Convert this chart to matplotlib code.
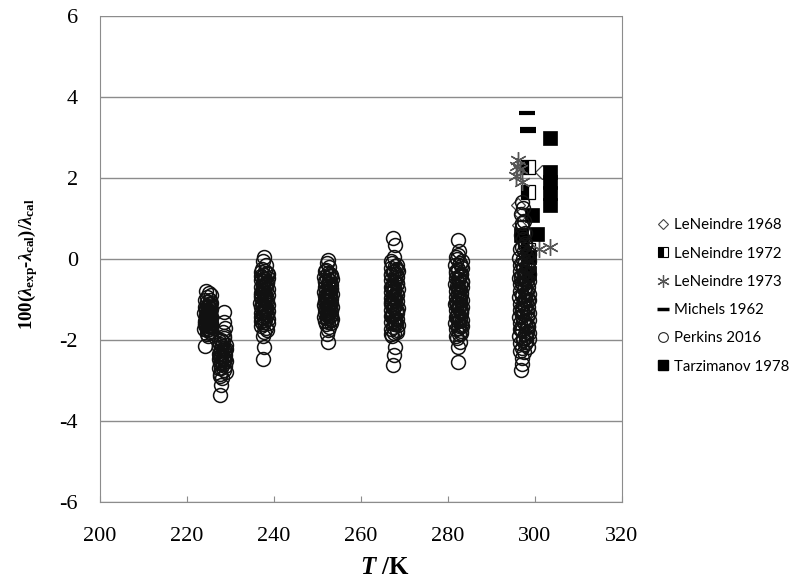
import matplotlib
matplotlib.use('Agg')
import matplotlib.pyplot as plt

plt.rcParams['axes.unicode_minus'] = False
plt.rcParams['mathtext.fontset'] = 'custom'
plt.rcParams['mathtext.rm'] = 'Liberation Serif:bold'
plt.rcParams['mathtext.it'] = 'Liberation Serif:italic:bold'
plt.rcParams['mathtext.bf'] = 'Liberation Serif:bold'

# Perkins 2016, six isotherm groups (two passes per group)
T_p225 = [224.4, 225.0, 224.7, 225.3, 224.5, 225.1, 224.8, 225.4, 224.3, 224.9, 225.2, 224.6,
          225.0, 224.4, 225.3, 224.7, 225.1, 224.5, 224.9, 225.4, 224.6, 225.0, 224.3, 225.2,
          224.8, 224.5, 225.1, 224.7, 225.3, 224.6, 224.9, 224.2, 225.5, 224.8, 225.0,
          224.1, 225.5, 224.2, 225.6, 224.0, 225.4, 224.3, 225.5, 224.1, 225.6, 224.2, 225.3,
          224.0, 225.5, 224.4, 225.2, 224.1, 225.4, 224.3, 225.6]
d_p225 = [-0.80, -0.85, -0.95, -1.00, -1.05, -1.10, -1.15, -1.20, -1.22, -1.25, -1.30, -1.32,
          -1.35, -1.38, -1.40, -1.42, -1.45, -1.48, -1.50, -1.52, -1.55, -1.58, -1.60, -1.62,
          -1.65, -1.70, -1.72, -1.75, -1.80, -1.85, -1.90, -2.15, -0.90, -1.28, -1.47,
          -1.02, -1.08, -1.18, -1.24, -1.33, -1.37, -1.43, -1.46, -1.53, -1.57, -1.63, -1.68,
          -1.73, -1.78, -1.26, -1.41, -1.59, -1.12, -1.51, -1.66]
T_p228 = [228.6, 228.4, 228.7, 228.2, 228.5, 227.9, 228.3, 227.6, 228.1, 228.6, 227.8, 228.4,
          228.0, 227.7, 228.3, 228.6, 227.9, 228.2, 227.8, 228.4, 227.6, 228.0, 227.9, 227.6,
          228.8, 227.5,
          227.4, 228.9, 227.3, 229.0, 227.5, 228.8, 227.4, 228.9, 227.6, 228.7, 227.3, 229.0,
          227.5, 228.6, 227.4, 228.8]
d_p228 = [-1.30, -1.55, -1.70, -1.80, -1.90, -2.00, -2.05, -2.10, -2.15, -2.20, -2.25, -2.30,
          -2.35, -2.40, -2.45, -2.50, -2.55, -2.60, -2.70, -2.75, -2.85, -2.95, -3.10, -3.35,
          -2.28, -2.42,
          -2.02, -2.12, -2.18, -2.22, -2.32, -2.38, -2.47, -2.52, -2.58, -2.63, -2.68, -2.78,
          -2.88, -1.95, -2.35, -2.48]
T_p238 = [237.8, 237.5, 238.1, 237.3, 237.9, 238.3, 237.6, 237.2, 238.0, 237.7, 238.4, 237.4,
          237.9, 238.2, 237.5, 237.8, 237.1, 238.0, 237.6, 238.3, 237.3, 237.9, 237.7, 238.1,
          237.4, 238.4, 237.6, 237.2, 238.0, 237.8, 237.5, 238.2, 237.7, 237.4, 237.6, 237.5,
          238.1, 237.3, 237.9, 238.2,
          236.9, 238.6, 237.0, 238.7, 236.9, 238.5, 237.1, 238.6, 236.9, 238.7, 237.0, 238.5,
          236.8, 238.6, 237.1, 238.7, 236.9, 238.5, 237.0, 238.6, 236.9, 238.7, 237.1, 238.5,
          237.5, 237.9, 237.4, 238.0, 237.6, 237.8]
d_p238 = [0.05, -0.05, -0.15, -0.25, -0.30, -0.35, -0.40, -0.45, -0.50, -0.55, -0.60, -0.65,
          -0.70, -0.75, -0.80, -0.85, -0.90, -0.95, -1.00, -1.05, -1.10, -1.15, -1.20, -1.25,
          -1.30, -1.35, -1.40, -1.45, -1.50, -1.55, -1.60, -1.70, -1.80, -1.90, -2.17, -2.47,
          -0.62, -0.78, -1.02, -1.22,
          -0.32, -0.38, -0.43, -0.48, -0.53, -0.58, -0.68, -0.73, -0.83, -0.88, -0.93, -0.98,
          -1.08, -1.13, -1.18, -1.28, -1.33, -1.38, -1.43, -1.48, -1.53, -1.58, -1.65, -1.75,
          -0.70, -0.90, -1.10, -1.30, -0.50, -1.20]
T_p252 = [252.4, 252.1, 252.7, 251.9, 252.5, 253.0, 252.2, 251.8, 252.6, 252.3, 253.1, 252.0,
          252.5, 252.8, 252.1, 252.4, 251.8, 252.7, 252.2, 252.9, 252.0, 252.6, 252.3, 252.8,
          252.1, 253.0, 252.4, 251.9, 252.6, 252.3, 252.1, 252.5, 252.7, 252.0, 252.9, 252.2,
          252.6, 251.9, 252.4, 252.8,
          251.7, 253.2, 251.6, 253.3, 251.8, 253.1, 251.7, 253.2, 251.6, 253.3, 251.7, 253.1,
          251.8, 253.2, 251.6, 253.3, 251.7, 253.1, 251.8, 253.2, 251.6, 253.3, 251.7, 253.1,
          252.4, 252.6, 252.2, 252.5, 252.3, 252.7]
d_p252 = [-0.02, -0.10, -0.20, -0.28, -0.35, -0.42, -0.48, -0.55, -0.60, -0.66, -0.72, -0.78,
          -0.84, -0.90, -0.95, -1.00, -1.05, -1.10, -1.15, -1.20, -1.25, -1.30, -1.35, -1.40,
          -1.45, -1.50, -1.55, -1.60, -1.68, -1.75, -1.85, -2.05, -0.52, -0.88, -1.12, -1.33,
          -0.70, -1.02, -1.22, -0.38,
          -0.30, -0.40, -0.45, -0.50, -0.58, -0.63, -0.68, -0.75, -0.81, -0.86, -0.92, -0.98,
          -1.03, -1.08, -1.14, -1.18, -1.24, -1.28, -1.33, -1.38, -1.43, -1.48, -1.53, -1.58,
          -0.62, -0.80, -1.00, -1.20, -1.40, -0.90]
T_p268 = [267.3, 267.8, 267.6, 267.2, 267.9, 268.2, 267.4, 267.0, 267.8, 267.5, 268.3, 267.2,
          267.7, 268.0, 267.3, 267.6, 267.0, 267.9, 267.4, 268.1, 267.2, 267.8, 267.5, 268.0,
          267.3, 268.2, 267.6, 267.1, 267.8, 267.5, 267.3, 267.9, 267.6, 267.4, 267.2, 268.0,
          267.7, 267.1, 267.9, 268.2, 267.4, 267.8,
          266.9, 268.3, 266.8, 268.4, 267.0, 268.2, 266.9, 268.3, 266.8, 268.4, 267.0, 268.2,
          266.9, 268.3, 266.8, 268.4, 267.0, 268.2, 266.9, 268.3, 266.8, 268.4, 267.0, 268.2,
          266.9, 267.6, 267.5, 267.7, 267.6, 267.4, 267.7, 267.5]
d_p268 = [0.52, 0.35, 0.05, -0.10, -0.18, -0.25, -0.32, -0.40, -0.47, -0.55, -0.62, -0.70,
          -0.77, -0.85, -0.92, -1.00, -1.07, -1.15, -1.22, -1.30, -1.37, -1.45, -1.52, -1.60,
          -1.67, -1.75, -1.82, -1.90, -2.17, -2.37, -2.62, -0.58, -0.95, -1.18, -1.41, -0.36,
          -0.80, -1.10, -1.55, -1.28, -0.66, -1.02,
          -0.05, -0.14, -0.21, -0.29, -0.38, -0.44, -0.51, -0.60, -0.68, -0.74, -0.82, -0.88,
          -0.97, -1.04, -1.12, -1.20, -1.26, -1.34, -1.40, -1.48, -1.56, -1.64, -1.72, -1.80,
          -1.86, -0.55, -0.75, -0.95, -1.15, -1.35, -1.60, -0.30]
T_p282 = [282.2, 282.6, 282.4, 282.1, 282.8, 283.1, 282.3, 281.9, 282.7, 282.4, 283.2, 282.1,
          282.6, 282.9, 282.2, 282.5, 281.9, 282.8, 282.3, 283.0, 282.1, 282.7, 282.4, 282.9,
          282.2, 283.1, 282.5, 282.0, 282.7, 282.4, 282.2, 282.8, 282.5, 282.3, 282.1, 282.9,
          282.6, 282.0, 282.8, 283.1, 282.3, 282.7,
          281.8, 283.2, 281.7, 283.3, 281.9, 283.1, 281.8, 283.2, 281.7, 283.3, 281.9, 283.1,
          281.8, 283.2, 281.7, 283.3, 281.9, 283.1, 281.8, 283.2, 281.7, 283.3, 281.9, 283.1,
          281.8, 282.5, 282.4, 282.6, 282.5, 282.3, 282.6, 282.4]
d_p282 = [0.47, 0.20, 0.10, 0.00, -0.10, -0.18, -0.26, -0.34, -0.42, -0.50, -0.58, -0.66,
          -0.74, -0.82, -0.90, -0.98, -1.06, -1.14, -1.22, -1.30, -1.38, -1.46, -1.54, -1.62,
          -1.70, -1.78, -1.86, -1.95, -2.05, -2.17, -2.55, -0.62, -0.95, -1.18, -1.41, -0.36,
          -0.80, -1.10, -1.50, -1.26, -0.70, -1.02,
          0.05, -0.05, -0.14, -0.22, -0.30, -0.38, -0.46, -0.54, -0.62, -0.70, -0.78, -0.86,
          -0.94, -1.02, -1.10, -1.18, -1.26, -1.34, -1.42, -1.50, -1.58, -1.66, -1.74, -1.82,
          -1.90, -0.50, -0.75, -0.98, -1.20, -1.45, -1.65, -0.25]
T_p298 = [297.0, 297.3, 296.8, 297.5, 297.1, 297.6, 297.2, 297.8, 297.0, 297.4, 297.9, 297.2,
          297.6, 298.1, 297.3, 297.8, 296.9, 297.5, 298.0, 297.2, 297.7, 298.2, 297.1, 297.6,
          298.0, 297.3, 297.8, 296.9, 297.5, 298.1, 297.2, 297.7, 298.3, 297.0, 297.6, 297.9,
          297.3, 297.7, 297.1, 297.5, 297.0, 296.9, 296.7, 298.2, 296.9, 298.3, 297.0, 298.2,
          296.8, 298.0, 296.9, 298.1, 298.3, 296.9, 298.2, 297.0, 298.1, 296.8, 297.9, 297.8,
          296.5, 298.6, 296.4, 298.7, 296.6, 298.5, 296.5, 298.6, 296.4, 298.7, 296.6, 298.5,
          296.5, 298.6, 296.4, 298.7, 296.6, 298.5, 296.5, 298.6, 296.4, 298.7, 296.6, 298.5,
          296.5, 298.6, 296.4, 298.7, 296.6, 298.5, 296.5, 297.5, 297.4, 297.6, 297.5, 297.3,
          296.8, 297.0, 297.6, 297.4]
d_p298 = [1.40, 1.25, 1.10, 0.95, 0.80, 0.65, 0.50, 0.40, 0.30, 0.20, 0.10, 0.00,
          -0.08, -0.16, -0.24, -0.32, -0.40, -0.48, -0.56, -0.64, -0.72, -0.80, -0.88, -0.96,
          -1.04, -1.12, -1.20, -1.28, -1.36, -1.44, -1.52, -1.60, -1.68, -1.76, -1.84, -1.92,
          -2.00, -2.10, -2.20, -2.30, -2.45, -2.60, -2.74, -0.20, -0.60, -1.00, -1.40, -1.80,
          -0.44, -0.84, -1.24, -1.64, 0.15, -0.12, -0.52, -0.92, -1.32, -1.72, -2.05, 0.35,
          0.25, 0.12, 0.02, -0.06, -0.14, -0.22, -0.30, -0.38, -0.46, -0.54, -0.62, -0.70,
          -0.78, -0.86, -0.94, -1.02, -1.10, -1.18, -1.26, -1.34, -1.42, -1.50, -1.58, -1.66,
          -1.74, -1.82, -1.90, -1.98, -2.08, -2.18, -2.28, -0.35, -0.75, -1.15, -1.55, -1.95,
          0.60, 0.90, -0.50, -1.00]

T_perkins = T_p225 + T_p228 + T_p238 + T_p252 + T_p268 + T_p282 + T_p298
d_perkins = d_p225 + d_p228 + d_p238 + d_p252 + d_p268 + d_p282 + d_p298

# other data sets near room temperature
T_ln1968 = [296.0, 296.8, 296.3, 301.5, 297.0]
d_ln1968 = [1.33, 1.10, 0.85, 2.15, 0.45]
T_ln1972 = [298.3, 298.4, 298.5]
d_ln1972 = [2.28, 1.65, 0.22]
T_ln1973 = [296.0, 295.6, 296.6, 296.9, 295.8, 301.0, 303.5]
d_ln1973 = [2.45, 2.05, 2.22, 1.90, 2.30, 0.25, 0.30]
T_mich = [298.2, 298.3, 298.4]
d_mich = [3.60, 3.20, 3.17]
T_tarz = [303.4, 303.4, 303.4, 303.4, 303.4, 299.2, 296.8, 300.5, 298.6, 298.7]
d_tarz = [3.00, 2.15, 1.90, 1.63, 1.33, 1.08, 0.59, 0.62, 0.05, -0.35]

fig = plt.figure(figsize=(8, 5.84), dpi=100)
ax = fig.add_axes([0.125, 0.1404, 0.6525, 0.8322])

ax.plot(T_ln1968, d_ln1968, 'D', ms=7, mfc='white', mec='#444444', mew=0.9, zorder=3)
ax.plot(T_ln1972, d_ln1972, 's', ms=10, fillstyle='left', mfc='black', mfcalt='white',
        mec='black', mew=0.9, zorder=3)
ax.plot(T_ln1973, d_ln1973, marker=(6, 2, 0), ls='none', ms=12, mec='#555555', mew=1.0, zorder=3)
ax.plot(T_mich, d_mich, '_', ms=11, mec='black', mew=3, zorder=3)
ax.plot(T_tarz, d_tarz, 's', ms=10, mfc='black', mec='black', mew=0.5, zorder=3)
ax.plot(T_perkins, d_perkins, 'o', ms=10, mfc='none', mec='#111111', mew=1.1, zorder=4)

ax.set_xlim(200, 320)
ax.set_ylim(-6, 6)
ax.set_xticks(range(200, 321, 20))
ax.set_yticks(range(-6, 7, 2))
ax.yaxis.grid(True, color='#8c8c8c', lw=1)
ax.set_axisbelow(True)
for s in ['left', 'bottom', 'right']:
    ax.spines[s].set_color('#8c8c8c')
ax.spines['top'].set_visible(False)
ax.tick_params(axis='x', direction='in', length=4, color='#8c8c8c', pad=18)
ax.tick_params(axis='y', length=0, pad=16)
for lab in ax.get_xticklabels() + ax.get_yticklabels():
    lab.set_fontfamily('Liberation Serif')
    lab.set_fontsize(16)

ax.set_xlabel(r'$T$ /K', fontsize=18, fontweight='bold', family='Liberation Serif')
ax.xaxis.set_label_coords(0.545, -0.112)
ax.set_ylabel(r'100($\lambda_{\rm exp}$-$\lambda_{\rm cal}$)/$\lambda_{\rm cal}$',
              fontsize=13.5, fontweight='bold', family='Liberation Serif')
ax.yaxis.set_label_coords(-0.115, 0.49)

h = [
    plt.Line2D([], [], ls='none', marker='D', ms=5, mfc='white', mec='#444444', mew=0.8),
    plt.Line2D([], [], ls='none', marker='s', ms=7, fillstyle='left', mfc='black',
               mfcalt='white', mec='black', mew=0.8),
    plt.Line2D([], [], ls='none', marker=(6, 2, 0), ms=9, mec='#555555', mew=0.9),
    plt.Line2D([], [], ls='none', marker='_', ms=9, mec='black', mew=2.5),
    plt.Line2D([], [], ls='none', marker='o', ms=7, mfc='none', mec='#222222', mew=0.8),
    plt.Line2D([], [], ls='none', marker='s', ms=7, mfc='black', mec='black'),
]
labels = ['LeNeindre 1968', 'LeNeindre 1972', 'LeNeindre 1973', 'Michels 1962',
          'Perkins 2016', 'Tarzimanov 1978']
fig.legend(h, labels, loc='upper left', bbox_to_anchor=(0.813, 0.639), frameon=False,
           handlelength=0.7, handletextpad=0.4, labelspacing=0.95,
           prop={'family': 'Lato', 'size': 10.8}, borderpad=0)

fig.savefig('out.png', dpi=100)
